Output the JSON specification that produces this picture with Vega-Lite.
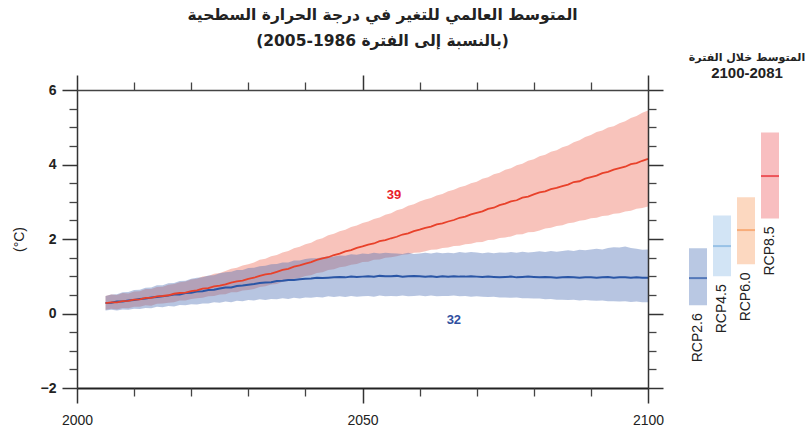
{
  "$schema": "https://vega.github.io/schema/vega-lite/v6.json",
  "background": "white",
  "padding": {"left": 12, "top": 7, "right": 5, "bottom": 5},
  "config": {"view": {"stroke": null}, "font": "Liberation Sans"},
  "spacing": 22,
  "datasets": {
    "series": [
      {"year":2005,"rm":0.28,"rl":0.10,"rh":0.47,"bm":0.28,"bl":0.08,"bh":0.47},
      {"year":2006,"rm":0.30,"rl":0.13,"rh":0.51,"bm":0.29,"bl":0.10,"bh":0.51},
      {"year":2007,"rm":0.30,"rl":0.11,"rh":0.50,"bm":0.32,"bl":0.08,"bh":0.52},
      {"year":2008,"rm":0.33,"rl":0.15,"rh":0.55,"bm":0.32,"bl":0.11,"bh":0.57},
      {"year":2009,"rm":0.34,"rl":0.14,"rh":0.54,"bm":0.35,"bl":0.10,"bh":0.58},
      {"year":2010,"rm":0.37,"rl":0.18,"rh":0.59,"bm":0.36,"bl":0.13,"bh":0.63},
      {"year":2011,"rm":0.38,"rl":0.18,"rh":0.60,"bm":0.39,"bl":0.12,"bh":0.64},
      {"year":2012,"rm":0.42,"rl":0.22,"rh":0.66,"bm":0.40,"bl":0.15,"bh":0.69},
      {"year":2013,"rm":0.42,"rl":0.21,"rh":0.66,"bm":0.43,"bl":0.14,"bh":0.70},
      {"year":2014,"rm":0.46,"rl":0.26,"rh":0.71,"bm":0.44,"bl":0.18,"bh":0.76},
      {"year":2015,"rm":0.47,"rl":0.27,"rh":0.72,"bm":0.46,"bl":0.17,"bh":0.76},
      {"year":2016,"rm":0.49,"rl":0.29,"rh":0.77,"bm":0.48,"bl":0.20,"bh":0.81},
      {"year":2017,"rm":0.53,"rl":0.30,"rh":0.79,"bm":0.51,"bl":0.19,"bh":0.82},
      {"year":2018,"rm":0.55,"rl":0.35,"rh":0.84,"bm":0.51,"bl":0.23,"bh":0.87},
      {"year":2019,"rm":0.56,"rl":0.35,"rh":0.86,"bm":0.55,"bl":0.22,"bh":0.88},
      {"year":2020,"rm":0.60,"rl":0.39,"rh":0.91,"bm":0.56,"bl":0.25,"bh":0.93},
      {"year":2021,"rm":0.62,"rl":0.41,"rh":0.93,"bm":0.59,"bl":0.24,"bh":0.96},
      {"year":2022,"rm":0.67,"rl":0.42,"rh":0.99,"bm":0.60,"bl":0.27,"bh":0.97},
      {"year":2023,"rm":0.68,"rl":0.46,"rh":1.01,"bm":0.63,"bl":0.27,"bh":1.02},
      {"year":2024,"rm":0.73,"rl":0.47,"rh":1.07,"bm":0.64,"bl":0.30,"bh":1.03},
      {"year":2025,"rm":0.75,"rl":0.51,"rh":1.09,"bm":0.67,"bl":0.29,"bh":1.08},
      {"year":2026,"rm":0.78,"rl":0.52,"rh":1.14,"bm":0.70,"bl":0.32,"bh":1.11},
      {"year":2027,"rm":0.83,"rl":0.57,"rh":1.20,"bm":0.70,"bl":0.30,"bh":1.12},
      {"year":2028,"rm":0.86,"rl":0.57,"rh":1.23,"bm":0.74,"bl":0.34,"bh":1.17},
      {"year":2029,"rm":0.88,"rl":0.62,"rh":1.29,"bm":0.75,"bl":0.33,"bh":1.17},
      {"year":2030,"rm":0.93,"rl":0.63,"rh":1.32,"bm":0.77,"bl":0.36,"bh":1.22},
      {"year":2031,"rm":0.96,"rl":0.66,"rh":1.37,"bm":0.79,"bl":0.35,"bh":1.23},
      {"year":2032,"rm":1.01,"rl":0.71,"rh":1.44,"bm":0.82,"bl":0.38,"bh":1.27},
      {"year":2033,"rm":1.05,"rl":0.73,"rh":1.47,"bm":0.83,"bl":0.36,"bh":1.28},
      {"year":2034,"rm":1.07,"rl":0.78,"rh":1.54,"bm":0.84,"bl":0.39,"bh":1.32},
      {"year":2035,"rm":1.12,"rl":0.79,"rh":1.57,"bm":0.87,"bl":0.38,"bh":1.33},
      {"year":2036,"rm":1.17,"rl":0.85,"rh":1.64,"bm":0.88,"bl":0.41,"bh":1.37},
      {"year":2037,"rm":1.20,"rl":0.87,"rh":1.68,"bm":0.90,"bl":0.39,"bh":1.37},
      {"year":2038,"rm":1.26,"rl":0.93,"rh":1.75,"bm":0.90,"bl":0.42,"bh":1.42},
      {"year":2039,"rm":1.29,"rl":0.95,"rh":1.79,"bm":0.92,"bl":0.40,"bh":1.42},
      {"year":2040,"rm":1.34,"rl":1.01,"rh":1.86,"bm":0.93,"bl":0.43,"bh":1.46},
      {"year":2041,"rm":1.38,"rl":1.03,"rh":1.90,"bm":0.94,"bl":0.42,"bh":1.48},
      {"year":2042,"rm":1.44,"rl":1.09,"rh":1.98,"bm":0.96,"bl":0.44,"bh":1.48},
      {"year":2043,"rm":1.48,"rl":1.11,"rh":2.02,"bm":0.95,"bl":0.43,"bh":1.51},
      {"year":2044,"rm":1.51,"rl":1.17,"rh":2.10,"bm":0.96,"bl":0.46,"bh":1.53},
      {"year":2045,"rm":1.57,"rl":1.19,"rh":2.14,"bm":0.97,"bl":0.44,"bh":1.53},
      {"year":2046,"rm":1.61,"rl":1.24,"rh":2.21,"bm":0.98,"bl":0.46,"bh":1.56},
      {"year":2047,"rm":1.67,"rl":1.26,"rh":2.25,"bm":0.97,"bl":0.44,"bh":1.55},
      {"year":2048,"rm":1.70,"rl":1.31,"rh":2.32,"bm":0.99,"bl":0.47,"bh":1.59},
      {"year":2049,"rm":1.76,"rl":1.33,"rh":2.36,"bm":0.98,"bl":0.45,"bh":1.58},
      {"year":2050,"rm":1.80,"rl":1.38,"rh":2.43,"bm":0.99,"bl":0.46,"bh":1.61},
      {"year":2051,"rm":1.85,"rl":1.39,"rh":2.47,"bm":1.00,"bl":0.47,"bh":1.60},
      {"year":2052,"rm":1.88,"rl":1.44,"rh":2.54,"bm":0.99,"bl":0.45,"bh":1.63},
      {"year":2053,"rm":1.94,"rl":1.45,"rh":2.58,"bm":1.01,"bl":0.48,"bh":1.61},
      {"year":2054,"rm":1.97,"rl":1.50,"rh":2.65,"bm":1.00,"bl":0.46,"bh":1.63},
      {"year":2055,"rm":2.02,"rl":1.51,"rh":2.69,"bm":1.00,"bl":0.47,"bh":1.62},
      {"year":2056,"rm":2.06,"rl":1.54,"rh":2.77,"bm":1.01,"bl":0.46,"bh":1.61},
      {"year":2057,"rm":2.12,"rl":1.58,"rh":2.81,"bm":0.99,"bl":0.48,"bh":1.60},
      {"year":2058,"rm":2.15,"rl":1.59,"rh":2.89,"bm":1.00,"bl":0.46,"bh":1.63},
      {"year":2059,"rm":2.21,"rl":1.63,"rh":2.93,"bm":1.01,"bl":0.47,"bh":1.60},
      {"year":2060,"rm":2.25,"rl":1.64,"rh":3.01,"bm":1.00,"bl":0.48,"bh":1.61},
      {"year":2061,"rm":2.30,"rl":1.67,"rh":3.06,"bm":0.99,"bl":0.46,"bh":1.63},
      {"year":2062,"rm":2.33,"rl":1.71,"rh":3.10,"bm":1.00,"bl":0.48,"bh":1.61},
      {"year":2063,"rm":2.39,"rl":1.72,"rh":3.17,"bm":0.98,"bl":0.46,"bh":1.64},
      {"year":2064,"rm":2.42,"rl":1.76,"rh":3.21,"bm":1.00,"bl":0.47,"bh":1.62},
      {"year":2065,"rm":2.47,"rl":1.77,"rh":3.28,"bm":0.99,"bl":0.47,"bh":1.63},
      {"year":2066,"rm":2.51,"rl":1.81,"rh":3.32,"bm":1.00,"bl":0.48,"bh":1.62},
      {"year":2067,"rm":2.57,"rl":1.82,"rh":3.39,"bm":0.99,"bl":0.46,"bh":1.65},
      {"year":2068,"rm":2.60,"rl":1.86,"rh":3.43,"bm":0.99,"bl":0.47,"bh":1.63},
      {"year":2069,"rm":2.66,"rl":1.87,"rh":3.50,"bm":1.00,"bl":0.45,"bh":1.65},
      {"year":2070,"rm":2.70,"rl":1.91,"rh":3.54,"bm":0.99,"bl":0.46,"bh":1.64},
      {"year":2071,"rm":2.74,"rl":1.92,"rh":3.62,"bm":0.98,"bl":0.45,"bh":1.62},
      {"year":2072,"rm":2.81,"rl":1.97,"rh":3.66,"bm":0.99,"bl":0.44,"bh":1.64},
      {"year":2073,"rm":2.84,"rl":1.98,"rh":3.74,"bm":0.98,"bl":0.45,"bh":1.62},
      {"year":2074,"rm":2.91,"rl":2.03,"rh":3.78,"bm":0.97,"bl":0.43,"bh":1.64},
      {"year":2075,"rm":2.95,"rl":2.04,"rh":3.86,"bm":0.98,"bl":0.43,"bh":1.63},
      {"year":2076,"rm":3.01,"rl":2.07,"rh":3.90,"bm":0.99,"bl":0.42,"bh":1.65},
      {"year":2077,"rm":3.04,"rl":2.12,"rh":3.98,"bm":0.97,"bl":0.43,"bh":1.63},
      {"year":2078,"rm":3.11,"rl":2.13,"rh":4.02,"bm":0.98,"bl":0.41,"bh":1.66},
      {"year":2079,"rm":3.14,"rl":2.18,"rh":4.10,"bm":0.99,"bl":0.41,"bh":1.64},
      {"year":2080,"rm":3.20,"rl":2.19,"rh":4.14,"bm":0.98,"bl":0.40,"bh":1.65},
      {"year":2081,"rm":3.25,"rl":2.23,"rh":4.22,"bm":0.97,"bl":0.40,"bh":1.67},
      {"year":2082,"rm":3.28,"rl":2.28,"rh":4.26,"bm":0.98,"bl":0.38,"bh":1.65},
      {"year":2083,"rm":3.34,"rl":2.30,"rh":4.34,"bm":0.97,"bl":0.39,"bh":1.68},
      {"year":2084,"rm":3.37,"rl":2.35,"rh":4.38,"bm":0.96,"bl":0.37,"bh":1.66},
      {"year":2085,"rm":3.42,"rl":2.37,"rh":4.46,"bm":0.97,"bl":0.37,"bh":1.68},
      {"year":2086,"rm":3.46,"rl":2.42,"rh":4.51,"bm":0.98,"bl":0.36,"bh":1.70},
      {"year":2087,"rm":3.53,"rl":2.44,"rh":4.60,"bm":0.97,"bl":0.37,"bh":1.68},
      {"year":2088,"rm":3.55,"rl":2.49,"rh":4.65,"bm":0.96,"bl":0.35,"bh":1.71},
      {"year":2089,"rm":3.62,"rl":2.51,"rh":4.74,"bm":0.97,"bl":0.36,"bh":1.70},
      {"year":2090,"rm":3.66,"rl":2.56,"rh":4.79,"bm":0.97,"bl":0.35,"bh":1.72},
      {"year":2091,"rm":3.70,"rl":2.57,"rh":4.87,"bm":0.96,"bl":0.34,"bh":1.74},
      {"year":2092,"rm":3.77,"rl":2.62,"rh":4.91,"bm":0.97,"bl":0.35,"bh":1.72},
      {"year":2093,"rm":3.80,"rl":2.63,"rh":4.99,"bm":0.98,"bl":0.33,"bh":1.76},
      {"year":2094,"rm":3.86,"rl":2.68,"rh":5.03,"bm":0.96,"bl":0.33,"bh":1.78},
      {"year":2095,"rm":3.90,"rl":2.69,"rh":5.11,"bm":0.97,"bl":0.32,"bh":1.77},
      {"year":2096,"rm":3.94,"rl":2.74,"rh":5.16,"bm":0.97,"bl":0.33,"bh":1.80},
      {"year":2097,"rm":4.01,"rl":2.76,"rh":5.25,"bm":0.96,"bl":0.31,"bh":1.76},
      {"year":2098,"rm":4.04,"rl":2.81,"rh":5.30,"bm":0.97,"bl":0.32,"bh":1.74},
      {"year":2099,"rm":4.10,"rl":2.83,"rh":5.39,"bm":0.96,"bl":0.30,"bh":1.71},
      {"year":2100,"rm":4.15,"rl":2.87,"rh":5.45,"bm":0.96,"bl":0.30,"bh":1.72}
    ],
    "bars": [
      {"scenario":"RCP2.6","lo":0.22,"hi":1.75,"mean":0.95},
      {"scenario":"RCP4.5","lo":1.00,"hi":2.63,"mean":1.81},
      {"scenario":"RCP6.0","lo":1.32,"hi":3.12,"mean":2.24},
      {"scenario":"RCP8.5","lo":2.55,"hi":4.86,"mean":3.69}
    ],
    "counts": [
      {"year":2055.5,"v":3.18,"label":"39","scenario":"RCP8.5"},
      {"year":2066,"v":-0.17,"label":"32","scenario":"RCP2.6"}
    ]
  },
  "hconcat": [
    {
      "width": 571,
      "height": 298,
      "title": {
        "text": ["المتوسط العالمي للتغير في درجة الحرارة السطحية", "(بالنسبة إلى الفترة 1986-2005)"],
        "font": "DejaVu Sans",
        "fontSize": 15.5,
        "fontWeight": "bold",
        "lineHeight": 26,
        "anchor": "middle",
        "dx": 20,
        "offset": 25,
        "color": "#222"
      },
      "resolve": {"axis": {"x": "independent", "y": "independent"}},
      "layer": [
        {
          "data": {"name": "series"},
          "mark": {"type": "area", "color": "#ee6a55", "opacity": 0.4},
          "encoding": {
            "x": {"field": "year", "type": "quantitative",
              "scale": {"domain": [2000, 2100], "nice": false, "zero": false},
              "axis": {"orient": "bottom", "values": [2000, 2050, 2100], "format": "d", "tickSize": 15, "tickWidth": 1.5, "tickColor": "#333", "domainColor": "#222", "domainWidth": 2, "labelFont": "Liberation Sans", "labelFontSize": 14, "labelColor": "#222", "labelPadding": 10, "labelFlush": false, "title": null, "grid": false, "zindex": 1}},
            "y": {"field": "rl", "type": "quantitative",
              "scale": {"domain": [-2, 6], "nice": false, "zero": false},
              "axis": {"orient": "left", "values": [-2, 0, 2, 4, 6], "tickSize": 15, "tickWidth": 1.5, "tickColor": "#333", "domainColor": "#333", "domainWidth": 1.5, "labelFont": "Liberation Sans", "labelFontSize": 14, "labelFontWeight": "bold", "labelColor": "#222", "labelPadding": 6, "title": "(°C)", "titleFont": "Liberation Sans", "titleFontSize": 14, "titleFontWeight": "normal", "titleColor": "#222", "titlePadding": 14, "grid": false, "zindex": 1}},
            "y2": {"field": "rh"}
          }
        },
        {
          "data": {"name": "series"},
          "mark": {"type": "area", "color": "#4a6fb5", "opacity": 0.4},
          "encoding": {
            "x": {"field": "year", "type": "quantitative",
              "scale": {"domain": [2000, 2100], "nice": false, "zero": false},
              "axis": {"orient": "bottom", "values": [2010, 2020, 2030, 2040, 2060, 2070, 2080, 2090], "tickSize": 8, "tickWidth": 1.3, "tickColor": "#444", "domain": false, "labels": false, "title": null, "grid": false, "zindex": 1}},
            "y": {"field": "bl", "type": "quantitative",
              "scale": {"domain": [-2, 6], "nice": false, "zero": false},
              "axis": {"orient": "left", "values": [-1.5, -1, -0.5, 0.5, 1, 1.5, 2.5, 3, 3.5, 4.5, 5, 5.5], "tickSize": 8, "tickWidth": 1.3, "tickColor": "#444", "domain": false, "labels": false, "title": null, "grid": false, "zindex": 1}},
            "y2": {"field": "bh"}
          }
        },
        {
          "data": {"name": "series"},
          "mark": {"type": "line", "color": "#2a56a6", "strokeWidth": 2},
          "encoding": {
            "x": {"field": "year", "type": "quantitative",
              "scale": {"domain": [2000, 2100], "nice": false, "zero": false},
              "axis": {"orient": "top", "values": [2000, 2050, 2100], "tickSize": 15, "tickWidth": 1.5, "tickColor": "#333", "domainColor": "#444", "domainWidth": 1.5, "labels": false, "title": null, "grid": false, "zindex": 1}},
            "y": {"field": "bm", "type": "quantitative",
              "scale": {"domain": [-2, 6], "nice": false, "zero": false},
              "axis": {"orient": "right", "values": [-2, 0, 2, 4, 6], "tickSize": 15, "tickWidth": 1.5, "tickColor": "#333", "domainColor": "#333", "domainWidth": 1.5, "labels": false, "title": null, "grid": false, "zindex": 1}}
          }
        },
        {
          "data": {"name": "series"},
          "mark": {"type": "line", "color": "#e8412a", "strokeWidth": 1.8},
          "encoding": {
            "x": {"field": "year", "type": "quantitative",
              "scale": {"domain": [2000, 2100], "nice": false, "zero": false},
              "axis": {"orient": "top", "values": [2010, 2020, 2030, 2040, 2060, 2070, 2080, 2090], "tickSize": 8, "tickWidth": 1.3, "tickColor": "#444", "domain": false, "labels": false, "title": null, "grid": false, "zindex": 1}},
            "y": {"field": "rm", "type": "quantitative",
              "scale": {"domain": [-2, 6], "nice": false, "zero": false},
              "axis": {"orient": "right", "values": [-1.5, -1, -0.5, 0.5, 1, 1.5, 2.5, 3, 3.5, 4.5, 5, 5.5], "tickSize": 8, "tickWidth": 1.3, "tickColor": "#444", "domain": false, "labels": false, "title": null, "grid": false, "zindex": 1}}
          }
        },
        {
          "data": {"name": "counts"},
          "mark": {"type": "text", "font": "Liberation Sans", "fontSize": 13, "fontWeight": "bold"},
          "encoding": {
            "x": {"field": "year", "type": "quantitative", "scale": {"domain": [2000, 2100], "nice": false, "zero": false}, "axis": null},
            "y": {"field": "v", "type": "quantitative", "scale": {"domain": [-2, 6], "nice": false, "zero": false}, "axis": null},
            "text": {"field": "label"},
            "color": {"field": "scenario", "type": "nominal", "scale": {"domain": ["RCP2.6", "RCP8.5"], "range": ["#2f4f9f", "#e8202a"]}, "legend": null}
          }
        }
      ]
    },
    {
      "width": 96,
      "height": 298,
      "data": {"name": "bars"},
      "title": {
        "text": "المتوسط خلال الفترة",
        "subtitle": "2100-2081",
        "font": "DejaVu Sans",
        "fontSize": 11,
        "fontWeight": "bold",
        "subtitleFont": "Liberation Sans",
        "subtitleFontSize": 15,
        "subtitleFontWeight": "bold",
        "subtitleColor": "#222",
        "subtitlePadding": 3,
        "anchor": "middle",
        "dx": 13,
        "offset": 9,
        "color": "#222"
      },
      "resolve": {"scale": {"color": "independent"}},
      "layer": [
        {
          "mark": {"type": "bar"},
          "encoding": {
            "x": {"field": "scenario", "type": "nominal", "sort": null, "scale": {"paddingInner": 0.25, "paddingOuter": 0.125}, "axis": null},
            "y": {"field": "lo", "type": "quantitative", "scale": {"domain": [-2, 6], "nice": false, "zero": false}, "axis": null},
            "y2": {"field": "hi"},
            "color": {"field": "scenario", "type": "nominal", "scale": {"domain": ["RCP2.6", "RCP4.5", "RCP6.0", "RCP8.5"], "range": ["#b9c8e3", "#d2e4f5", "#fcd8c0", "#f8bec0"]}, "legend": null}
          }
        },
        {
          "mark": {"type": "tick", "thickness": 2, "size": 18},
          "encoding": {
            "x": {"field": "scenario", "type": "nominal", "sort": null, "axis": null},
            "y": {"field": "mean", "type": "quantitative", "axis": null},
            "color": {"field": "scenario", "type": "nominal", "scale": {"domain": ["RCP2.6", "RCP4.5", "RCP6.0", "RCP8.5"], "range": ["#2a56a6", "#7fb2e0", "#f59a5c", "#e8262e"]}, "legend": null}
          }
        },
        {
          "mark": {"type": "text", "angle": 270, "align": "right", "baseline": "middle", "dx": -8, "font": "Liberation Sans", "fontSize": 14, "color": "#222"},
          "encoding": {
            "x": {"field": "scenario", "type": "nominal", "sort": null, "axis": null},
            "y": {"field": "lo", "type": "quantitative", "axis": null},
            "text": {"field": "scenario"}
          }
        }
      ]
    }
  ]
}
